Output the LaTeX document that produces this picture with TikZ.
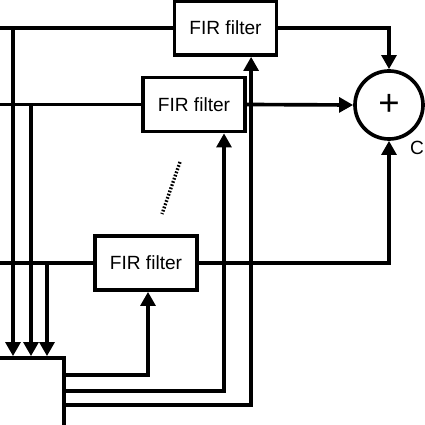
\documentclass[tikz,border=0pt]{standalone}
\usepackage{fontspec}
\setmainfont{Liberation Sans}
\usetikzlibrary{calc,arrows.meta,positioning}
\tikzset{>=latex}
\tikzset{
  blk/.style={draw, line width=2.6pt, minimum width=2.55cm, minimum height=1.35cm, inner sep=0pt, font=\fontsize{13.6}{15}\selectfont},
  sig/.style={line width=2.6pt, -{Triangle[length=10pt,width=10.5pt]}},
  wire/.style={line width=2.6pt},
}
\begin{document}
\begin{tikzpicture}[x=0.025cm, y=-0.025cm]
\clip (0,0) rectangle (425,425);
\node[blk] (fir1) at (225.5,28) {FIR filter};
\node[blk] (fir2) at (194,104.5) {FIR filter};
\node[blk] (fir3) at (146,263) {FIR filter};
\node[draw, circle, line width=2.6pt, minimum size=1.7cm, inner sep=0pt, font=\fontsize{26}{26}\selectfont] (sum) at (389,105) {+};
\node[blk, minimum width=2.35cm, minimum height=2.05cm] (dsp) at (17,399) {};
\node[font=\fontsize{13.6}{15}\selectfont] (out) at (417,148) {C};
% inputs
\coordinate (in1) at (-5,28);
\coordinate (in2) at (-5,104.5);
\coordinate (in3) at (-5,263);
\coordinate (tap1) at (13,28);
\coordinate (tap2) at (31,104.5);
\coordinate (tap3) at (47,263);
\draw[wire] (in1) -- (fir1);
\draw[wire] (in2) -- (fir2);
\draw[wire] (in3) -- (fir3);
\draw[sig] (tap1) -- (tap1 |- dsp.north);
\draw[sig] (tap2) -- (tap2 |- dsp.north);
\draw[sig] (tap3) -- (tap3 |- dsp.north);
% coefficients
\coordinate (c3) at (64,375);
\coordinate (c2) at (64,391);
\coordinate (c1) at (64,405);
\draw[sig] (c3) -| ([xshift=0.05cm]fir3.south);
\draw[sig] (c2) -| ([xshift=0.75cm]fir2.south);
\draw[sig] (c1) -| ([xshift=0.64cm]fir1.south);
% sum
\draw[sig] (fir1.east) -| (sum.north);
\draw[sig] (fir2.east) -- (sum.west);
\draw[sig] (fir3.east) -| (sum.south);
\draw[line width=2.4pt, dash pattern=on 1.2pt off 1.2pt] (180,162) -- (162,214);
\end{tikzpicture}
\end{document}
